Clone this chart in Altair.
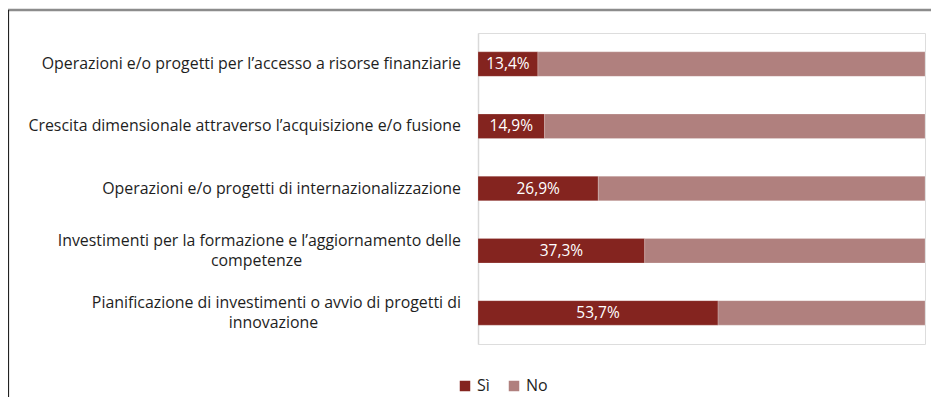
import altair as alt
import pandas as pd

# ---------------- data ----------------
categories = [
    "Operazioni e/o progetti per l’accesso a risorse finanziarie",
    "Crescita dimensionale attraverso l’acquisizione e/o fusione",
    "Operazioni e/o progetti di internazionalizzazione",
    "Investimenti per la formazione e l’aggiornamento delle competenze",
    "Pianificazione di investimenti o avvio di progetti di innovazione",
]
first_lines = [
    "Operazioni e/o progetti per l’accesso a risorse finanziarie",
    "Crescita dimensionale attraverso l’acquisizione e/o fusione",
    "Operazioni e/o progetti di internazionalizzazione",
    "Investimenti per la formazione e l’aggiornamento delle",
    "Pianificazione di investimenti o avvio di progetti di",
]
second_lines = ["", "", "", "competenze", "innovazione"]
si_values = [13.4, 14.9, 26.9, 37.3, 53.7]
responses = ["Sì", "No"]

# ---------------- style ----------------
colors = ["#84241f", "#b0807e"]
FONT = "Open Sans"
FS = 15.9
VFS = 15.5
TEXT_COLOR = "#1e1e1e"
LABEL_RIGHT = -17          # px, right edge of category labels (relative to plot)
SECOND_LINE_CENTER = {"competenze": -221.5, "innovazione": -204.5}
LINE_OFFSET = 10

# ---------------- tables ----------------
rows = []
for c, v in zip(categories, si_values):
    rows.append({"cat": c, "risposta": "Sì", "valore": v, "ordine": 0})
    rows.append({"cat": c, "risposta": "No", "valore": round(100 - v, 1), "ordine": 1})
bars_df = pd.DataFrame(rows)

val_df = pd.DataFrame({
    "cat": categories,
    "mid": [v / 2 for v in si_values],
    "txt": [f"{v:.1f}".replace(".", ",") + "%" for v in si_values],
})

single_df = pd.DataFrame({
    "cat": [c for c, s in zip(categories, second_lines) if not s],
    "txt": [f for f, s in zip(first_lines, second_lines) if not s],
})
multi_first_df = pd.DataFrame({
    "cat": [c for c, s in zip(categories, second_lines) if s],
    "txt": [f for f, s in zip(first_lines, second_lines) if s],
})

x_scale = alt.Scale(domain=[0, 100], nice=False)
y_scale = alt.Scale(paddingInner=0.606, paddingOuter=0.303)

y_enc = alt.Y(
    "cat:N",
    sort=categories,
    scale=y_scale,
    axis=alt.Axis(title=None, labels=False, ticks=False, domain=True,
                  domainColor="#d9d9d9", domainWidth=1.5, grid=False),
)
y_plain = alt.Y("cat:N", sort=categories)

bars = alt.Chart(bars_df).mark_bar(stroke="#ffffff", strokeWidth=0.4, strokeOpacity=0.5).encode(
    x=alt.X("valore:Q", stack="zero", scale=x_scale, axis=None),
    y=y_enc,
    color=alt.Color(
        "risposta:N",
        scale=alt.Scale(domain=responses, range=colors),
        legend=alt.Legend(
            title=None, orient="none", legendX=-21, legendY=345, direction="horizontal",
            symbolType="square", symbolSize=110, symbolStrokeWidth=0,
            labelFontSize=16, labelFont=FONT, labelColor=TEXT_COLOR, labelOffset=4,
            columnPadding=16,
        ),
    ),
    order=alt.Order("ordine:Q"),
)

values = alt.Chart(val_df).mark_text(
    color="white", fontSize=VFS, font=FONT, align="center", baseline="middle"
).encode(
    x=alt.X("mid:Q", scale=x_scale, axis=None),
    y=y_plain,
    text="txt:N",
)

single = alt.Chart(single_df).mark_text(
    align="right", baseline="middle", fontSize=FS, font=FONT, color=TEXT_COLOR
).encode(x=alt.value(LABEL_RIGHT), y=y_plain, text="txt:N")

multi_first = alt.Chart(multi_first_df).mark_text(
    align="right", baseline="middle", fontSize=FS, font=FONT, color=TEXT_COLOR, dy=-LINE_OFFSET
).encode(x=alt.value(LABEL_RIGHT), y=y_plain, text="txt:N")

second_layers = []
for c, s in zip(categories, second_lines):
    if not s:
        continue
    d = pd.DataFrame({"cat": [c], "txt": [s]})
    second_layers.append(
        alt.Chart(d).mark_text(
            align="center", baseline="middle", fontSize=FS, font=FONT, color=TEXT_COLOR, dy=LINE_OFFSET
        ).encode(x=alt.value(SECOND_LINE_CENTER[s]), y=y_plain, text="txt:N")
    )

top_line = alt.Chart(pd.DataFrame({"k": [0]})).mark_rule(color="#8c8c8c", strokeWidth=2.5).encode(
    x=alt.value(-475), x2=alt.value(455), y=alt.value(-23)
)
left_line = alt.Chart(pd.DataFrame({"k": [0]})).mark_rule(color="#222222", strokeWidth=1.2).encode(
    x=alt.value(-469.5), y=alt.value(-23), y2=alt.value(370)
)

chart = alt.layer(bars, values, single, multi_first, *second_layers, top_line, left_line).properties(
    width=447,
    height=311,
    padding={"left": 470, "top": 25, "right": 6, "bottom": 53},
    autosize=alt.AutoSizeParams(type="none"),
).configure_view(stroke=None).configure(font=FONT)

chart.save("out.html", embed_options={"renderer": "svg", "actions": False})
